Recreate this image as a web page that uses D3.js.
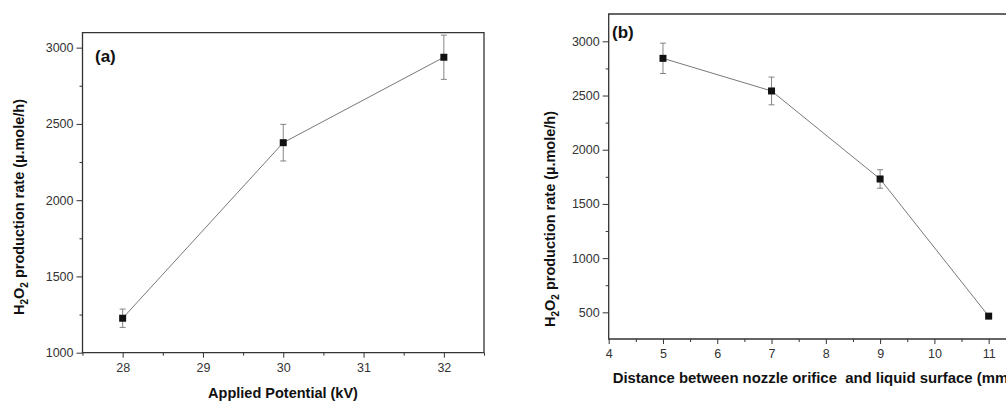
<!DOCTYPE html>
<html>
<head>
<meta charset="utf-8">
<script src="https://cdn.jsdelivr.net/npm/d3@7"></script>
<style>
  body { margin: 0; background: #fff; }
  svg { display: block; font-family: "Liberation Sans", Arial, sans-serif; }
  .axis path, .axis line { stroke: #333; }
</style>
</head>
<body>
<div id="chart"></div>
<script>
// panel (a): applied potential
var potentialKV = [28, 30, 32];
var rateA = [1226, 2377, 2937];
var errA = [60, 120, 145];
var xTicksA = [28, 29, 30, 31, 32];
var yTicksA = [1000, 1500, 2000, 2500, 3000];

// panel (b): nozzle distance
var distanceMM = [5, 7, 9, 11];
var rateB = [2843, 2542, 1730, 465];
var errB = [140, 128, 85, 0];
var xTicksB = [4, 5, 6, 7, 8, 9, 10, 11];
var yTicksB = [500, 1000, 1500, 2000, 2500, 3000];

var svg = d3.select("#chart").append("svg")
    .attr("width", 1006)
    .attr("height", 401);

var fmt = d3.format("d");

function styleTicks(sel) {
  sel.select(".domain").remove();
  sel.selectAll("text")
      .style("font-family", "'Liberation Sans', Arial, sans-serif")
      .style("font-size", "12.5px")
      .attr("fill", "#333");
}

function drawPanel(p) {
  var x = d3.scaleLinear().domain(p.xDomain).range([p.left, p.right]);
  var y = d3.scaleLinear().domain(p.yDomain).range([p.bottom, p.top]);
  var g = svg.append("g");

  // minor ticks
  g.append("g").attr("class", "axis")
      .attr("transform", "translate(0," + p.bottom + ")")
      .call(d3.axisBottom(x).tickValues(p.xMinor).tickSize(3).tickFormat(""))
      .call(styleTicks);
  g.append("g").attr("class", "axis")
      .attr("transform", "translate(" + p.left + ",0)")
      .call(d3.axisLeft(y).tickValues(p.yMinor).tickSize(3).tickFormat(""))
      .call(styleTicks);

  // major ticks
  g.append("g").attr("class", "axis")
      .attr("transform", "translate(0," + p.bottom + ")")
      .call(d3.axisBottom(x).tickValues(p.xTicks).tickSize(5).tickSizeOuter(0).tickPadding(5).tickFormat(fmt))
      .call(styleTicks);
  g.append("g").attr("class", "axis")
      .attr("transform", "translate(" + p.left + ",0)")
      .call(d3.axisLeft(y).tickValues(p.yTicks).tickSize(6).tickSizeOuter(0).tickPadding(3).tickFormat(fmt))
      .call(styleTicks);

  // frame
  var frame = g.append("path")
      .attr("fill", "none")
      .attr("stroke", "#333")
      .attr("stroke-width", 1.3);
  if (p.closed) {
    frame.attr("d", "M" + p.left + "," + p.top + "H" + p.right + "V" + p.bottom + "H" + p.left + "Z");
  } else {
    frame.attr("d", "M" + p.right + "," + p.top + "H" + p.left + "V" + p.bottom + "H" + p.right);
  }

  var pts = p.xs.map(function(v, i) { return { x: v, y: p.ys[i], e: p.errs[i] }; });

  // connecting line
  g.append("path")
      .datum(pts)
      .attr("fill", "none")
      .attr("stroke", "#555")
      .attr("stroke-width", 0.8)
      .attr("d", d3.line().x(function(d) { return x(d.x); }).y(function(d) { return y(d.y); }));

  // error bars
  var eb = g.selectAll(".err").data(pts.filter(function(d) { return d.e > 0; }))
      .enter().append("g").attr("class", "err")
      .attr("stroke", "#777").attr("stroke-width", 0.9);
  eb.append("line")
      .attr("x1", function(d) { return x(d.x); }).attr("x2", function(d) { return x(d.x); })
      .attr("y1", function(d) { return y(d.y - d.e); }).attr("y2", function(d) { return y(d.y + d.e); });
  eb.append("line")
      .attr("x1", function(d) { return x(d.x) - 3; }).attr("x2", function(d) { return x(d.x) + 3; })
      .attr("y1", function(d) { return y(d.y + d.e); }).attr("y2", function(d) { return y(d.y + d.e); });
  eb.append("line")
      .attr("x1", function(d) { return x(d.x) - 3; }).attr("x2", function(d) { return x(d.x) + 3; })
      .attr("y1", function(d) { return y(d.y - d.e); }).attr("y2", function(d) { return y(d.y - d.e); });

  // square markers
  g.selectAll(".pt").data(pts).enter().append("rect")
      .attr("class", "pt")
      .attr("x", function(d) { return x(d.x) - 3.5; })
      .attr("y", function(d) { return y(d.y) - 3.5; })
      .attr("width", 7).attr("height", 7)
      .attr("fill", "#111");

  // panel letter
  g.append("text")
      .attr("x", p.letterX).attr("y", p.letterY)
      .attr("font-size", 17).attr("font-weight", "bold").attr("fill", "#111")
      .text(p.letter);

  // x title
  g.append("text")
      .attr("x", p.xTitleX).attr("y", p.xTitleY)
      .attr("text-anchor", p.xTitleAnchor)
      .attr("font-size", p.xTitleSize).attr("font-weight", "bold").attr("fill", "#111")
      .style("white-space", "pre")
      .text(p.xTitle);

  // y title with subscripts
  var yt = g.append("text")
      .attr("transform", "translate(" + p.yTitleX + "," + p.yTitleY + ") rotate(-90)")
      .attr("text-anchor", "middle")
      .attr("font-size", 14.5).attr("font-weight", "bold").attr("fill", "#111");
  yt.append("tspan").text("H");
  yt.append("tspan").attr("font-size", 10).attr("dy", 4).text("2");
  yt.append("tspan").attr("dy", -4).text("O");
  yt.append("tspan").attr("font-size", 10).attr("dy", 4).text("2");
  yt.append("tspan").attr("dy", -4).text(" production rate (\u00b5.mole/h)");
}

drawPanel({
  xDomain: [27.5, 32.5], yDomain: [1000, 3098],
  left: 82.5, right: 484, top: 32.7, bottom: 352.7, closed: true,
  xTicks: xTicksA, yTicks: yTicksA,
  xMinor: [27.5, 28.5, 29.5, 30.5, 31.5, 32.5],
  yMinor: [1250, 1750, 2250, 2750],
  xs: potentialKV, ys: rateA, errs: errA,
  letter: "(a)", letterX: 95, letterY: 62,
  xTitle: "Applied Potential (kV)", xTitleX: 283, xTitleY: 398, xTitleAnchor: "middle", xTitleSize: 14.5,
  yTitleX: 24, yTitleY: 207
});

drawPanel({
  xDomain: [4, 11.5], yDomain: [254, 3252],
  left: 608.7, right: 1015.8, top: 14, bottom: 339, closed: false,
  xTicks: xTicksB, yTicks: yTicksB,
  xMinor: [4.5, 5.5, 6.5, 7.5, 8.5, 9.5, 10.5, 11.5],
  yMinor: [750, 1250, 1750, 2250, 2750],
  xs: distanceMM, ys: rateB, errs: errB,
  letter: "(b)", letterX: 612, letterY: 38,
  xTitle: "Distance between nozzle orifice  and liquid surface (mm)", xTitleX: 612.7, xTitleY: 383, xTitleAnchor: "start", xTitleSize: 14.9,
  yTitleX: 555, yTitleY: 219
});
</script>
</body>
</html>
